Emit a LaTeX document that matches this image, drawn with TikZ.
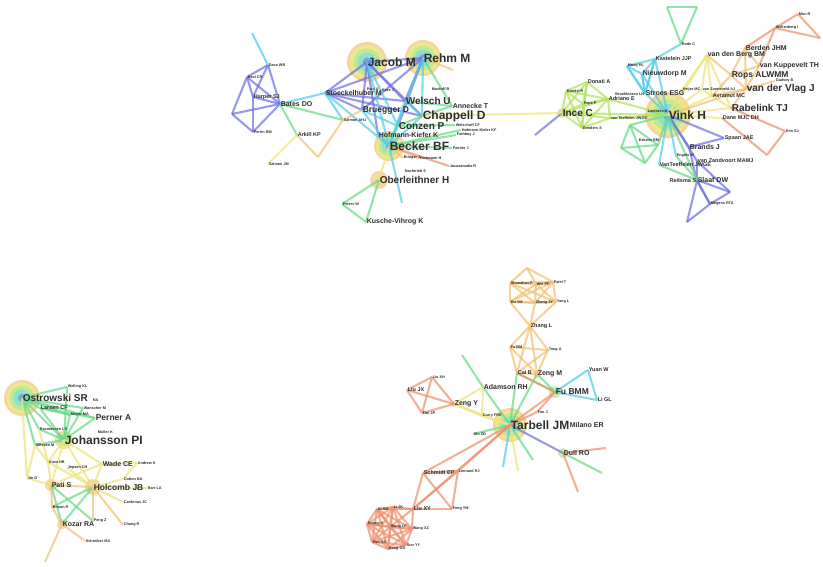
\documentclass[tikz,border=0pt]{standalone}
\usepackage{fontspec}
\setmainfont{Liberation Sans}
\usetikzlibrary{backgrounds}
\definecolor{txt}{RGB}{45,45,45}
\definecolor{eblue}{RGB}{112,112,228}
\definecolor{ecyan}{RGB}{85,205,232}
\definecolor{egreen}{RGB}{105,218,135}
\definecolor{elime}{RGB}{178,226,96}
\definecolor{eyel}{RGB}{236,228,122}
\definecolor{eorg}{RGB}{242,192,118}
\definecolor{esal}{RGB}{238,145,112}
\definecolor{hA}{RGB}{244,206,140}
\definecolor{hB}{RGB}{236,234,140}
\definecolor{hC}{RGB}{182,234,150}
\definecolor{hD}{RGB}{138,224,212}
\definecolor{hE}{RGB}{118,150,232}
\newcommand\halo[2]{%
  \foreach \hr/\hc in {1/hA,0.86/hB,0.68/hC,0.48/hD,0.22/hE}
    \fill[\hc, opacity=0.85] (#1) circle[radius={\hr*#2}];}

\begin{document}
\begin{tikzpicture}[
    x=1pt, y=-1pt,
    nbase/.style = {text=txt, inner sep=0.6pt},
    nxl/.style = {nbase, font=\fontsize{12}{12}\selectfont\bfseries},
    nl/.style  = {nbase, font=\fontsize{10}{10}\selectfont\bfseries},
    nm/.style  = {nbase, font=\fontsize{8.5}{8.5}\selectfont\bfseries},
    ns/.style  = {nbase, font=\fontsize{7}{7}\selectfont\bfseries},
    nxs/.style = {nbase, font=\fontsize{5.5}{5.5}\selectfont\bfseries},
    nt/.style  = {nbase, font=\fontsize{3.8}{3.8}\selectfont\bfseries},
    edge/.style = {line width=2.1pt, opacity=0.72},
    eB/.style = {edge, draw=eblue},
    eC/.style = {edge, draw=ecyan},
    eG/.style = {edge, draw=egreen},
    eL/.style = {edge, draw=elime},
    eY/.style = {edge, draw=eyel},
    eO/.style = {edge, draw=eorg},
    eS/.style = {edge, draw=esal},
    dot/.style = {opacity=0.8}
  ]
  \useasboundingbox (0,0) rectangle (823,566);

  % ---- Jacob / Rehm group
  \coordinate[label={[nxl]right:Jacob M}] (jacob) at (367,62);
  \coordinate[label={[nxl]right:Rehm M}] (rehm) at (423,58);
  \coordinate[label={[ns]right:Stoeckelhuber M}] (stoeck) at (325,93);
  \coordinate[label={[nl]right:Welsch U}] (welsch) at (405,101);
  \coordinate[label={[ns]right:Annecke T}] (annecke) at (452,106);
  \coordinate[label={[nxl]right:Chappell D}] (chappell) at (422,116);
  \coordinate[label={[nm]right:Bruegger D}] (bruegger) at (362,110);
  \coordinate[label={[nl]right:Conzen P}] (conzen) at (398,126);
  \coordinate[label={[ns]right:Hofmann-Kiefer K}] (hofmann) at (378,135);
  \coordinate[label={[nxl]right:Becker BF}] (becker) at (389,146);
  \coordinate[label={[nl]right:Oberleithner H}] (oberl) at (379,180);
  \coordinate[label={[ns]right:Kusche-Vihrog K}] (kusche) at (366,222);
  \coordinate[label={[nt]right:Peters W}] (peters) at (342,204);
  \coordinate[label={[ns]right:Bates DO}] (bates) at (280,104);
  \coordinate[label={[nxs]right:Harper SJ}] (harper) at (253,97);
  \coordinate[label={[nt]right:Dace WB}] (dace) at (268,65);
  \coordinate[label={[nt]right:Neal CR}] (neal) at (247,77);
  \coordinate[label={[nt]right:Perrin RM}] (perrin) at (253,132);
  \coordinate[label={[nxs]right:Arkill KP}] (arkill) at (297,135);
  \coordinate[label={[nt]right:Salmon AHJ}] (salmonA) at (343,120);
  \coordinate[label={[nt]right:Salmon JM}] (salmonJ) at (268,164);
  \coordinate[label={[nt]right:Paul U}] (paul) at (366,89);
  \coordinate[label={[nt]right:Kaes J}] (kaes) at (381,90);
  \coordinate[label={[nt]right:Markoff B}] (markoff) at (431,89);
  \coordinate[label={[nt]right:Welschoff CF}] (welschf) at (455,125);
  \coordinate[label={[nt]right:Hofmann-Kiefer KF}] (hofkf) at (461,130);
  \coordinate[label={[nt]right:Fathboy J}] (fath) at (456,135);
  \coordinate[label={[nt]right:Pastier J}] (pastier) at (452,148);
  \coordinate[label={[nt]right:Brieger J}] (brieger) at (403,158);
  \coordinate[label={[nt]right:Hartmann H}] (hart) at (419,158);
  \coordinate[label={[nt]right:Jacazanodia R}] (jacaz) at (449,166);
  \coordinate[label={[nt]right:Nachtrieb S}] (nacht) at (404,171);
  \coordinate (lv) at (232,114);
  \coordinate (tl) at (252,33);
  \coordinate (av) at (318,157);
  \coordinate (ro) at (453,70);
  \coordinate (bd) at (402,203);

  % ---- Vink group
  \coordinate[label={[nxl]right:Vink H}] (vink) at (668,115);
  \coordinate[label={[nt]right:Lambers B}] (lambers) at (647,111);
  \coordinate[label={[nl]right:Ince C}] (ince) at (562,113);
  \coordinate[label={[nxs]right:Donati A}] (donati) at (587,82);
  \coordinate[label={[nt]right:Dondel R}] (dondel) at (566,91);
  \coordinate[label={[nt]right:Pepe P}] (pepe) at (583,104);
  \coordinate[label={[nxs]right:Adriano E}] (adriano) at (608,99);
  \coordinate[label={[nt]right:Donders S}] (donders) at (582,128);
  \coordinate[label={[nt]right:van Teeffelen JWGE}] (vteefA) at (610,118);
  \coordinate[label={[nxs]right:Kastelein JJP}] (kastelein) at (655,59);
  \coordinate[label={[nt]right:Mooij HL}] (mooij) at (627,66);
  \coordinate[label={[ns]right:Nieuwdorp M}] (nieuw) at (642,74);
  \coordinate[label={[nt]left:Broekhuizen LN}] (broekh) at (645,94);
  \coordinate[label={[ns]right:Stroes ESG}] (stroes) at (645,93);
  \coordinate[label={[nt]right:Heijer MC}] (heijer) at (682,90);
  \coordinate[label={[nt]right:van Zonneveld AJ}] (vzonn) at (702,89);
  \coordinate[label={[nxs]right:Avramut MC}] (avramut) at (712,96);
  \coordinate[label={[ns]right:van den Berg BM}] (vdberg) at (707,55);
  \coordinate[label={[ns]right:Berden JHM}] (berden) at (745,48);
  \coordinate[label={[ns]right:van Kuppevelt TH}] (vkupp) at (759,66);
  \coordinate[label={[nm]right:Rops ALWMM}] (rops) at (731,75);
  \coordinate[label={[nl]right:van der Vlag J}] (vdvlag) at (746,89);
  \coordinate[label={[nt]right:Gadsey B}] (gadsey) at (775,81);
  \coordinate[label={[nl]right:Rabelink TJ}] (rabelink) at (731,108);
  \coordinate[label={[nxs]right:Dane MJC DH}] (dane) at (722,118);
  \coordinate[label={[nxs]right:Spaan JAE}] (spaan) at (724,138);
  \coordinate[label={[ns]right:Brands J}] (brands) at (689,147);
  \coordinate[label={[nt]right:Engels W}] (engels) at (676,156);
  \coordinate[label={[nxs]right:van Zandvoort MAMJ}] (vzand) at (697,161);
  \coordinate[label={[nxs]right:VanTeeffelen JWGE}] (vteefB) at (659,165);
  \coordinate[label={[nxs]left:Reitsma S}] (reitsma) at (697,181);
  \coordinate[label={[ns]right:Slaaf DW}] (slaaf) at (697,180);
  \coordinate[label={[nt]right:Megens RTA}] (megens) at (710,204);
  \coordinate[label={[nt]right:Eskens BM}] (eskens) at (638,140);
  \coordinate[label={[nt]right:Rode C}] (rode) at (681,44);
  \coordinate[label={[nt]right:Wellenberg I}] (wellen) at (775,28);
  \coordinate[label={[nt]right:Mon R}] (mon) at (798,14);
  \coordinate[label={[nt]right:Kim SJ}] (kim) at (785,131);
  \coordinate (il) at (535,135);
  \coordinate (gt1) at (667,7);
  \coordinate (gt2) at (697,7);
  \coordinate (gq1) at (630,125);
  \coordinate (gq2) at (621,148);
  \coordinate (gq3) at (645,163);
  \coordinate (gq4) at (658,145);
  \coordinate (pb1) at (687,222);
  \coordinate (pb2) at (730,192);
  \coordinate (ot) at (820,38);
  \coordinate (ov) at (767,155);

  % ---- Ostrowski / Johansson group
  \coordinate[label={[nl]right:Ostrowski SR}] (ostrow) at (22,398);
  \coordinate[label={[nt]right:NA}] (na) at (92,400);
  \coordinate[label={[nt]right:Welling KL}] (welling) at (67,387);
  \coordinate[label={[nxs]right:Larsen CF}] (larsen) at (40,408);
  \coordinate[label={[nt]right:Wanscher M}] (wanscher) at (83,408);
  \coordinate[label={[nt]right:Meyer MA}] (meyer) at (70,415);
  \coordinate[label={[nm]right:Perner A}] (perner) at (95,418);
  \coordinate[label={[nt]right:Rasmussen LS}] (rasmus) at (39,429);
  \coordinate[label={[nt]right:Muller K}] (muller) at (97,432);
  \coordinate[label={[nxl]right:Johansson PI}] (johans) at (64,440);
  \coordinate[label={[nt]right:Sillesen M}] (sillesen) at (35,445);
  \coordinate[label={[nt]right:Alam HB}] (alam) at (48,462);
  \coordinate[label={[nt]right:Jepsen CH}] (jepsen) at (67,468);
  \coordinate[label={[ns]right:Wade CE}] (wade) at (102,464);
  \coordinate[label={[nt]right:Andrew K}] (andrew) at (137,463);
  \coordinate[label={[nt]right:Jin G}] (jin) at (27,478);
  \coordinate[label={[nt]right:Cotton BA}] (cotton) at (123,479);
  \coordinate[label={[ns]right:Pati S}] (pati) at (51,485);
  \coordinate[label={[nm]right:Holcomb JB}] (holcomb) at (93,487);
  \coordinate[label={[nt]right:Barr LA}] (barr) at (147,488);
  \coordinate[label={[nt]right:Cardenas JC}] (cardenas) at (123,502);
  \coordinate[label={[nt]right:Brown R}] (brown) at (52,507);
  \coordinate[label={[ns]right:Kozar RA}] (kozar) at (62,524);
  \coordinate[label={[nt]right:Peng Z}] (peng) at (93,521);
  \coordinate[label={[nt]right:Chang R}] (chang) at (123,525);
  \coordinate[label={[nt]right:Schreiber MA}] (schreib) at (85,541);
  \coordinate (oc) at (45,562);

  % ---- Tarbell group
  \coordinate[label={[nxl]right:Tarbell JM}] (tarbell) at (510,425);
  \coordinate[label={[ns]right:Milano ER}] (milano) at (569,425);
  \coordinate[label={[nt]right:Curry FRE}] (curry) at (482,416);
  \coordinate[label={[nt]right:Shi ZD}] (shi) at (473,434);
  \coordinate[label={[nt]right:Fan J}] (fanJ) at (537,412);
  \coordinate[label={[ns]right:Zeng Y}] (zengY) at (454,404);
  \coordinate[label={[ns]right:Adamson RH}] (adamson) at (483,387);
  \coordinate[label={[nt]right:Liu XH}] (liuXH) at (432,377);
  \coordinate[label={[nxs]right:Liu JX}] (liuJX) at (407,390);
  \coordinate[label={[nt]right:Fan ZP}] (fanZP) at (422,413);
  \coordinate[label={[nxs]right:Cai B}] (caiB) at (517,373);
  \coordinate[label={[ns]right:Zeng M}] (zengM) at (537,374);
  \coordinate[label={[nm]right:Fu BMM}] (fuBMM) at (555,392);
  \coordinate[label={[nxs]right:Yuan W}] (yuan) at (588,370);
  \coordinate[label={[nxs]right:Li GL}] (liGL) at (597,400);
  \coordinate[label={[ns]right:Dull RO}] (dull) at (563,453);
  \coordinate[label={[nxs]right:Schmidt EP}] (schmidt) at (423,473);
  \coordinate[label={[nt]right:Lennard RJ}] (lennard) at (458,471);
  \coordinate[label={[nxs]right:Liu XY}] (liuXY) at (413,509);
  \coordinate[label={[nt]right:Feng YM}] (fengYM) at (452,509);
  \coordinate[label={[nxs]right:Zhang L}] (zhangL) at (530,326);
  \coordinate[label={[nt]right:Fu BM}] (fuBM) at (510,347);
  \coordinate[label={[nt]right:Tong A}] (tongA) at (548,350);
  \coordinate[label={[nt]right:Shanahan P}] (shan) at (510,283);
  \coordinate[label={[nt]right:Wei PF}] (weiPF) at (536,284);
  \coordinate[label={[nt]right:Patel T}] (patel) at (553,282);
  \coordinate[label={[nt]right:Du YM}] (duYM) at (510,302);
  \coordinate[label={[nt]right:Zhang JY}] (zhangJY) at (535,303);
  \coordinate[label={[nt]right:Yang L}] (yangL) at (556,302);
  \coordinate[label={[nt]right:Ai AM}] (aiAM) at (377,509);
  \coordinate[label={[nt]right:Li JK}] (liJK) at (393,507);
  \coordinate[label={[nt]right:Huang X}] (huang) at (367,524);
  \coordinate[label={[nt]right:Wang LF}] (wangLF) at (390,527);
  \coordinate[label={[nt]right:Wang XZ}] (wangXZ) at (412,529);
  \coordinate[label={[nt]right:Han SS}] (hanSS) at (372,542);
  \coordinate[label={[nt]right:Sun YY}] (sunYY) at (406,545);
  \coordinate[label={[nt]right:Kong GG}] (kong) at (388,549);
  \coordinate (adv) at (462,355);
  \coordinate (top) at (527,268);
  \coordinate (dr1) at (606,448);
  \coordinate (dr2) at (578,492);
  \coordinate (dg) at (602,473);
  \coordinate (ts1) at (503,467);
  \coordinate (ts2) at (518,471);
  \coordinate (ts3) at (533,460);

  \begin{scope}[on background layer]
    % node halos
    \halo{jacob}{20} \halo{rehm}{18} \halo{becker}{15} \halo{vink}{23}
    \halo{ostrow}{18} \halo{tarbell}{17} \halo{johans}{9}
    \fill[hA, dot] (oberl) circle[radius=9];
    \foreach \n/\r in {pati/6, holcomb/8, kozar/5, zengM/4, zengY/3, ince/5}
      \fill[hA, dot] (\n) circle[radius=\r];
    \foreach \n/\r in {fuBMM/6, dull/5}
      \fill[hC, dot] (\n) circle[radius=\r];

    % blue links
    \foreach \a/\b in {jacob/stoeck, jacob/bruegger, jacob/welsch, jacob/rehm,
        rehm/stoeck, rehm/bruegger, rehm/conzen, stoeck/welsch, stoeck/bruegger,
        stoeck/chappell, jacob/chappell, rehm/welsch, jacob/hofmann,
        harper/dace, harper/neal, neal/dace, harper/perrin, harper/bates,
        dace/bates, neal/bates, perrin/bates, lv/neal, lv/bates, lv/perrin,
        ince/il, vink/brands, vink/spaan, vink/vzand, brands/spaan,
        reitsma/megens, reitsma/pb1, megens/pb2, pb2/vzand, slaaf/pb2,
        megens/pb1, reitsma/vzand, slaaf/megens, brands/reitsma, tarbell/dull}
      \draw[eB] (\a) -- (\b);
    % cyan links
    \foreach \a/\b in {stoeck/bates, dace/tl, becker/bd, jacob/conzen,
        rehm/chappell, welsch/becker, bruegger/becker, conzen/becker,
        welsch/chappell, chappell/becker, hofmann/becker, rehm/becker,
        stoeck/becker, stoeck/salmonA, jacob/becker, bruegger/conzen,
        mooij/kastelein, mooij/nieuw, mooij/broekh, mooij/stroes,
        kastelein/nieuw, kastelein/stroes, kastelein/broekh, nieuw/broekh,
        nieuw/stroes, broekh/stroes, stroes/vink, nieuw/vink, kastelein/vink,
        rode/kastelein, vink/lambers, vink/engels, vink/vteefB,
        fuBMM/yuan, fuBMM/liGL, yuan/liGL, tarbell/ts1}
      \draw[eC] (\a) -- (\b);
    % green links
    \foreach \a/\b in {bates/salmonA, bates/arkill, rehm/annecke, oberl/peters,
        oberl/kusche, peters/kusche, conzen/chappell, becker/pastier,
        becker/hofkf, welsch/annecke, chappell/annecke, conzen/welschf,
        becker/fath, gt1/gt2, gt1/rode, gt2/rode, gq1/gq2, gq2/gq3, gq3/gq4,
        gq4/gq1, gq1/gq3, gq2/gq4, gq4/vink, gq1/vink, vteefB/slaaf,
        engels/slaaf, vink/slaaf, ostrow/johans, ostrow/larsen,
        ostrow/wanscher, ostrow/meyer, ostrow/perner, ostrow/welling,
        ostrow/rasmus, ostrow/sillesen, johans/larsen, johans/wanscher,
        johans/meyer, johans/perner, johans/rasmus, johans/sillesen,
        larsen/perner, larsen/meyer, welling/johans, pati/kozar,
        holcomb/kozar, pati/peng, holcomb/brown, tarbell/adamson,
        tarbell/caiB, tarbell/zengM, tarbell/shi, adamson/adv, fuBMM/zengM,
        fuBMM/caiB, dull/dg, tarbell/ts3}
      \draw[eG] (\a) -- (\b);
    % lime links
    \foreach \a/\rest in {ince/{donati,dondel,pepe,adriano,donders,vteefA,vink},
        donati/{dondel,pepe,adriano,donders}, dondel/{pepe,adriano,donders},
        pepe/{adriano,donders}, adriano/{donders,vteefA,vink},
        donders/{vteefA}, vteefA/{vink}}
      \foreach \b in \rest
        \draw[eL] (\a) -- (\b);
    % yellow links
    \foreach \a/\b in {arkill/salmonJ, chappell/ince, becker/oberl,
        vdberg/vink, vdberg/avramut, vdberg/heijer, vdberg/vzonn,
        avramut/vink, vzonn/vink, heijer/vink, rabelink/vink, dane/vink,
        vdberg/rabelink, avramut/rabelink, vzonn/avramut,
        johans/alam, johans/wade, johans/holcomb, johans/pati, alam/pati,
        alam/holcomb, wade/holcomb, wade/andrew, holcomb/cotton,
        holcomb/cardenas, holcomb/barr, sillesen/jin, ostrow/jin, jin/pati,
        jepsen/holcomb, sillesen/alam, rasmus/alam, wade/pati, andrew/cotton,
        tarbell/curry, tarbell/zengY, adamson/zengY, adamson/curry,
        curry/zengY, tarbell/ts2}
      \draw[eY] (\a) -- (\b);
    % orange links
    \foreach \a/\b in {arkill/av, av/salmonA, salmonA/bruegger, rehm/ro,
        becker/hart, becker/brieger, berden/rops, berden/vkupp, vkupp/rops,
        rops/vdvlag, berden/vdvlag, vkupp/vdvlag, gadsey/vdvlag, rops/vdberg,
        vdvlag/vink, vdvlag/rabelink, rops/avramut, vdvlag/avramut,
        pati/brown, kozar/schreib, holcomb/chang, kozar/oc, pati/holcomb,
        kozar/brown, holcomb/peng, zhangL/fuBM, zhangL/tongA, zhangL/caiB,
        zhangL/zengM, fuBM/caiB, fuBM/zengM, tongA/caiB, tongA/zengM,
        fuBM/tongA, caiB/zengM, zhangL/duYM, zhangL/zhangJY, zhangL/yangL,
        top/shan, top/weiPF, top/patel}
      \draw[eO] (\a) -- (\b);
    \foreach \a/\rest in {shan/{weiPF,patel,duYM,zhangJY,yangL},
        weiPF/{patel,duYM,zhangJY,yangL}, patel/{duYM,zhangJY,yangL},
        duYM/{zhangJY,yangL}, zhangJY/{yangL}}
      \foreach \b in \rest
        \draw[eO] (\a) -- (\b);
    % salmon links
    \foreach \a/\b in {becker/jacaz, wellen/berden, wellen/vkupp, wellen/mon,
        wellen/ot, mon/ot, rabelink/kim, kim/ov, ov/dane,
        tarbell/fuBMM, tarbell/fanJ, tarbell/schmidt, tarbell/liuXY,
        tarbell/lennard, schmidt/lennard, schmidt/liuXY, schmidt/fengYM,
        lennard/liuXY, lennard/fengYM, liuXY/fengYM, fuBMM/fanJ, caiB/fuBMM,
        zengY/liuXH, zengY/liuJX, zengY/fanZP, liuXH/liuJX, liuXH/fanZP,
        liuJX/fanZP, dull/dr1, dull/dr2, liuXY/aiAM, liuXY/liJK,
        liuXY/wangLF, liuXY/wangXZ}
      \draw[eS] (\a) -- (\b);
    \foreach \a/\rest in {aiAM/{liJK,huang,wangLF,wangXZ,hanSS,sunYY,kong},
        liJK/{huang,wangLF,wangXZ,hanSS,sunYY,kong},
        huang/{wangLF,wangXZ,hanSS,sunYY,kong}, wangLF/{wangXZ,hanSS,sunYY,kong},
        wangXZ/{hanSS,sunYY,kong}, hanSS/{sunYY,kong}, sunYY/{kong}}
      \foreach \b in \rest
        \draw[eS] (\a) -- (\b);
  \end{scope}
\end{tikzpicture}
\end{document}
